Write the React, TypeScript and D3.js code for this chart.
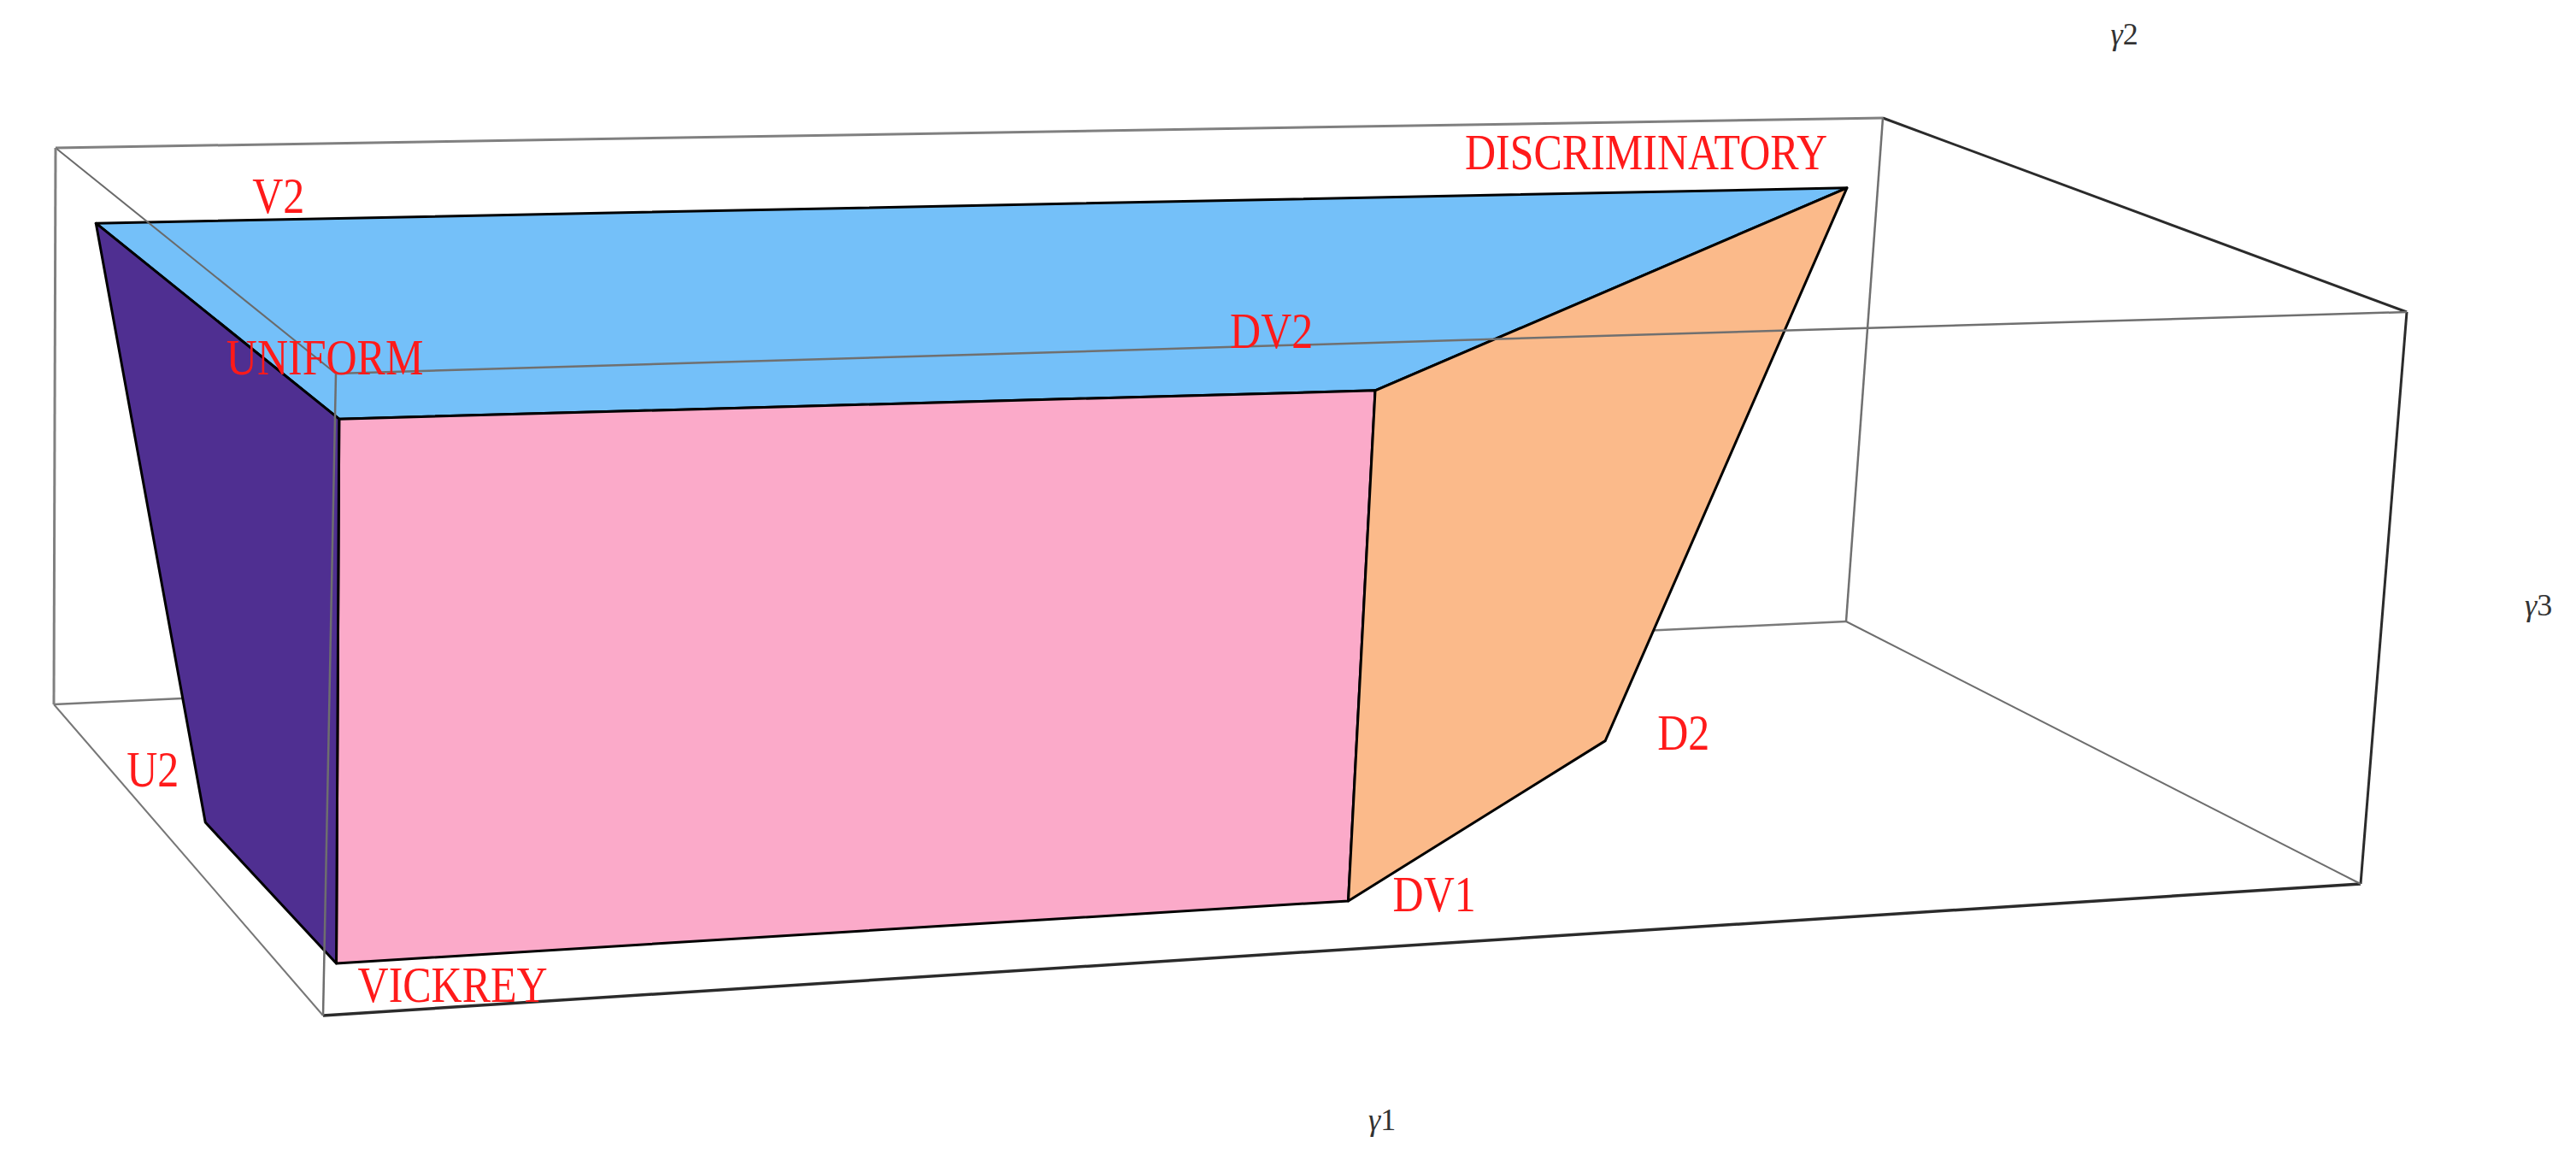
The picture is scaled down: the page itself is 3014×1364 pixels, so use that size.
import * as React from "react"
import * as d3 from "d3"

// polytope vertices (normalised gamma units)
const vertexNames = ["VICKREY", "UNIFORM", "V2", "DISCRIMINATORY", "DV2", "DV1", "D2", "U2"]
const gamma1 = [0.006, 0.002, 0.0, 0.94, 0.503, 0.502, 0.735, 0.0]
const gamma2 = [0.0, 0.0, 0.855, 0.85, 0.0, 0.0, 0.485, 0.44]
const gamma3 = [0.08, 0.929, 0.925, 0.925, 0.921, 0.08, 0.08, 0.093]

// faces of the polytope
const faceNames = ["top", "front", "right", "left"]
const faceVertices = [
  ["V2", "DISCRIMINATORY", "DV2", "UNIFORM"],
  ["UNIFORM", "DV2", "DV1", "VICKREY"],
  ["DV2", "DISCRIMINATORY", "D2", "DV1"],
  ["V2", "UNIFORM", "VICKREY", "U2"],
]
const faceColors = ["#74c0f9", "#fbaac9", "#fbba8a", "#4f2f91"]

const axisNames = ["γ1", "γ2", "γ3"]

const width = 3014
const height = 1364

// camera: where the corners of the bounding box land on screen, [u][v][w]
const view = {
  c000: [378, 1188],
  c100: [2762, 1034],
  c001: [393, 437],
  c101: [2816, 365],
  c010: [63, 824],
  c110: [2160, 727],
  c011: [65, 173],
  c111: [2203, 138],
}

const sx = d3.scaleLinear().domain([0, 1]).range([0, 1])
const sy = d3.scaleLinear().domain([0, 1]).range([0, 1])
const sz = d3.scaleLinear().domain([0, 1]).range([0, 1])

function project(g1: number, g2: number, g3: number): [number, number] {
  const u = sx(g1)
  const v = sy(g2)
  const w = sz(g3)
  let x = 0
  let y = 0
  for (const a of [0, 1])
    for (const b of [0, 1])
      for (const c of [0, 1]) {
        const k = (a ? u : 1 - u) * (b ? v : 1 - v) * (c ? w : 1 - w)
        const p = (view as any)[`c${a}${b}${c}`]
        x += k * p[0]
        y += k * p[1]
      }
  return [x, y]
}

const vertexPos = (name: string) => {
  const i = vertexNames.indexOf(name)
  return project(gamma1[i], gamma2[i], gamma3[i])
}

// box edges: [from, to, colour, width], hidden ones first
const boxEdges: [number[], number[], string, number, boolean][] = [
  [[0, 1, 0], [1, 1, 0], "#7a7a7a", 2.5, true],
  [[0, 0, 0], [1, 0, 0], "#2b2b2b", 3.5, false],
  [[1, 0, 0], [1, 0, 1], "#2b2b2b", 3, false],
  [[1, 1, 1], [1, 0, 1], "#2b2b2b", 3, false],
  [[0, 1, 1], [1, 1, 1], "#808080", 3, false],
  [[0, 0, 1], [1, 0, 1], "#707070", 2.5, false],
  [[0, 1, 1], [0, 0, 1], "#6a6a6a", 2, false],
  [[0, 1, 1], [0, 1, 0], "#808080", 3, false],
  [[0, 0, 0], [0, 0, 1], "#6e6e6e", 2.5, false],
  [[0, 1, 0], [0, 0, 0], "#777777", 2, false],
  [[1, 1, 0], [1, 0, 0], "#6e6e6e", 2, false],
  [[1, 1, 1], [1, 1, 0], "#707070", 2.5, false],
]

const labelOffsets: Record<string, [number, number]> = {
  VICKREY: [25, 45],
  UNIFORM: [-132, -52],
  V2: [183, -12],
  DISCRIMINATORY: [-447, -22],
  DV2: [-170, -50],
  DV1: [52, 12],
  D2: [61, 10],
  U2: [-92, -42],
}

// axis labels sit off the middle of an edge
const axisAnchors: [number, number, number][] = [
  [0.5, 0, 0],
  [1, 0.5, 1],
  [1, 0, 0.5],
]
const axisOffsets: [number, number][] = [
  [31, 211],
  [-40, -200],
  [165, 20],
]

export default function App() {
  const facePath = d3.line().curve(d3.curveLinearClosed)

  const edgeLine = (e: (typeof boxEdges)[number], i: number) => {
    const a = project(e[0][0], e[0][1], e[0][2])
    const b = project(e[1][0], e[1][1], e[1][2])
    return (
      <line
        key={"e" + i}
        x1={a[0]}
        y1={a[1]}
        x2={b[0]}
        y2={b[1]}
        stroke={e[2]}
        strokeWidth={e[3]}
      />
    )
  }

  return (
    <svg
      width={width}
      height={height}
      style={{ position: "absolute", left: 0, top: 0, background: "#fff" }}
    >
      <rect width={width} height={height} fill="#fff" />
      {boxEdges.filter((e) => e[4]).map(edgeLine)}
      {faceNames.map((f, i) => (
        <path
          key={f}
          d={facePath(faceVertices[i].map(vertexPos)) || ""}
          fill={faceColors[i]}
          stroke="#000"
          strokeWidth={3}
          strokeLinejoin="round"
        />
      ))}
      {boxEdges.filter((e) => !e[4]).map(edgeLine)}
      {vertexNames.map((n) => {
        const p = vertexPos(n)
        const o = labelOffsets[n]
        return (
          <text
            key={n}
            transform={`translate(${p[0] + o[0]},${p[1] + o[1]}) scale(1,1.2)`}
            fontFamily="'Liberation Serif', 'DejaVu Serif', serif"
            fontSize={50}
            fill="#ff1a1a"
          >
            {n}
          </text>
        )
      })}
      {axisNames.map((n, i) => {
        const a = axisAnchors[i]
        const p = project(a[0], a[1], a[2])
        const o = axisOffsets[i]
        return (
          <text
            key={n}
            x={p[0] + o[0]}
            y={p[1] + o[1]}
            fontFamily="'Liberation Serif', serif"
            fontSize={36}
            fill="#333"
          >
            <tspan fontStyle="italic">{n[0]}</tspan>
            <tspan>{n.slice(1)}</tspan>
          </text>
        )
      })}
    </svg>
  )
}
